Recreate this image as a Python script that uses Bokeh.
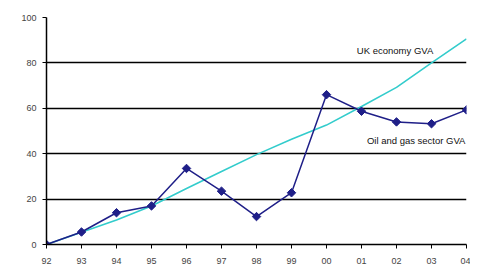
import math
from bokeh.plotting import figure
from bokeh.models import ColumnDataSource, Label, FixedTicker, Range1d
from bokeh.embed import file_html
from bokeh.resources import INLINE

years = ["92", "93", "94", "95", "96", "97", "98", "99", "00", "01", "02", "03", "04"]
oil_gas = [0, 5.5, 14, 17, 33.5, 23.5, 12.3, 22.8, 66, 58.7, 54, 53.2, 59.3]
uk_economy = [0, 5.4, 10.8, 17, 24.7, 32.2, 39.6, 46.4, 52.6, 60.8, 69.2, 80, 90.6]
y_ticks = [0, 20, 40, 60, 80, 100]

idx = list(range(len(years)))
src = ColumnDataSource(data=dict(x=idx, oil=oil_gas, uk=uk_economy))

p = figure(width=470, height=272, output_backend="svg", toolbar_location=None,
           x_range=Range1d(0, len(years) - 1), y_range=Range1d(0, 100),
           min_border_left=46, min_border_right=4, min_border_top=17, min_border_bottom=28)
p.outline_line_color = None
p.background_fill_color = "white"
p.border_fill_color = "white"

# grid
p.xgrid.grid_line_color = None
p.ygrid.grid_line_color = "black"
p.ygrid.grid_line_width = 1.5
p.ygrid.ticker = FixedTicker(ticks=y_ticks)

# axes
p.yaxis.ticker = FixedTicker(ticks=y_ticks)
p.xaxis.ticker = FixedTicker(ticks=idx)
p.xaxis.major_label_overrides = {i: y for i, y in zip(idx, years)}
for ax in (p.xaxis, p.yaxis):
    ax.axis_line_color = "black"
    ax.axis_line_width = 1.5
    ax.major_tick_line_color = "black"
    ax.major_tick_line_width = 1
    ax.major_tick_out = 4
    ax.major_tick_in = 0
    ax.minor_tick_line_color = None
    ax.major_label_text_font = "Liberation Sans"
    ax.major_label_text_font_size = "9px"
    ax.major_label_text_color = "#444444"
p.yaxis.major_label_standoff = 6
p.xaxis.major_label_standoff = 9

p.line("x", "uk", source=src, line_color="#33cccc", line_width=1.6)
p.line("x", "oil", source=src, line_color="#1f1f88", line_width=1.5)
p.scatter("x", "oil", source=src, marker="square", size=6, angle=math.pi / 4,
          fill_color="#1f1f88", line_color="#1f1f88")

p.add_layout(Label(x=11.05, y=85.5, text="UK economy GVA", text_align="right",
                   text_baseline="middle", text_font="Liberation Sans",
                   text_font_size="9.5px", text_color="#111111"))
p.add_layout(Label(x=11.97, y=45.8, text="Oil and gas sector GVA", text_align="right",
                   text_baseline="middle", text_font="Liberation Sans",
                   text_font_size="9.5px", text_color="#111111"))

open("out.html", "w").write(file_html(p, INLINE))
